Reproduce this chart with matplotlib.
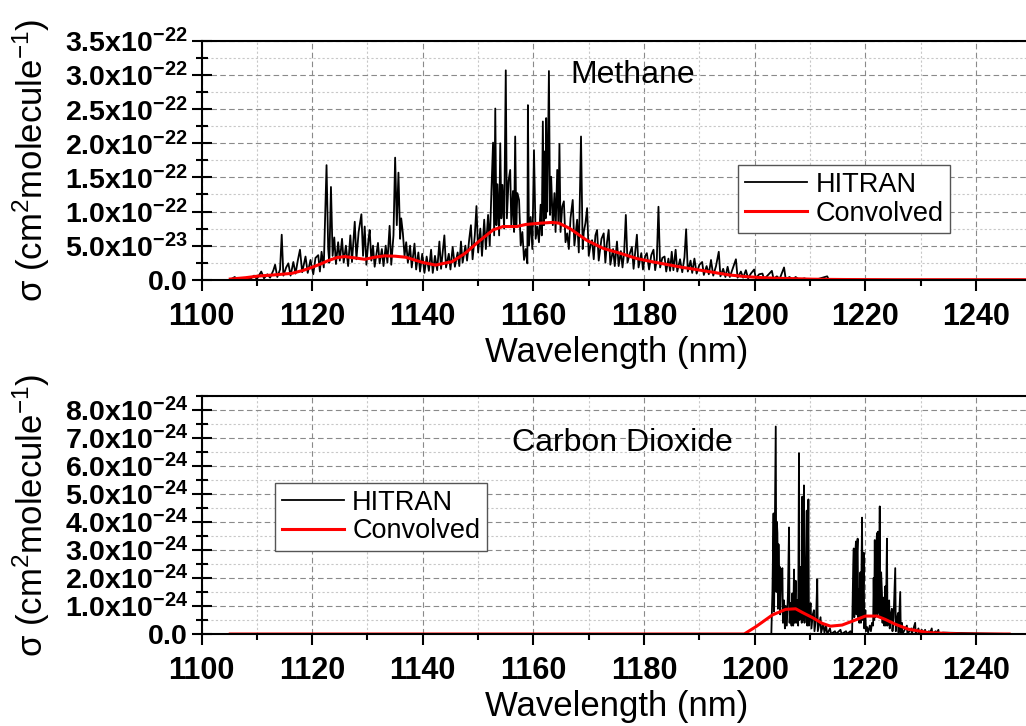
import numpy as np
import matplotlib
matplotlib.use("Agg")
import matplotlib.pyplot as plt
from matplotlib.ticker import MultipleLocator, FuncFormatter

plt.rcParams["font.family"] = ["Liberation Sans", "DejaVu Sans"]
plt.rcParams["mathtext.fontset"] = "custom"
plt.rcParams["mathtext.rm"] = "Liberation Sans"
plt.rcParams["mathtext.it"] = "Liberation Sans:italic"
plt.rcParams["mathtext.bf"] = "Liberation Sans:bold"

# Methane, HITRAN line-by-line cross section (nm, 1e-23 cm^2/molecule)
ch4_wl = [
    1105.2, 1105.6, 1106.0, 1106.4, 1107.0, 1107.5, 1108.2, 1108.8, 1109.5, 1110.0,
    1110.8, 1111.3, 1111.9, 1112.4, 1113.0, 1113.3, 1113.7, 1114.2, 1114.5, 1114.8,
    1115.3, 1115.7, 1116.1, 1116.6, 1117.0, 1117.4, 1117.8, 1118.2, 1118.8, 1119.2,
    1119.7, 1120.2, 1120.6, 1121.1, 1121.4, 1121.7, 1122.1, 1122.6, 1122.9, 1123.1,
    1123.4, 1123.7, 1124.0, 1124.3, 1124.7, 1125.0, 1125.4, 1125.7, 1126.1, 1126.5,
    1126.9, 1127.2, 1127.7, 1128.0, 1128.4, 1128.9, 1129.2, 1129.5, 1129.8, 1130.2,
    1130.4, 1130.7, 1131.0, 1131.3, 1131.9, 1132.2, 1132.6, 1132.9, 1133.3, 1133.6,
    1134.0, 1134.3, 1134.7, 1135.0, 1135.3, 1135.6, 1135.9, 1136.1, 1136.4, 1136.7,
    1137.0, 1137.3, 1137.7, 1138.0, 1138.5, 1138.8, 1139.2, 1139.5, 1139.9, 1140.3,
    1140.7, 1141.1, 1141.5, 1141.8, 1142.2, 1142.6, 1143.0, 1143.3, 1143.9, 1144.2,
    1144.7, 1145.0, 1145.4, 1145.8, 1146.3, 1146.6, 1146.9, 1147.2, 1147.7, 1148.0,
    1148.4, 1148.7, 1149.0, 1149.4, 1149.7, 1150.0, 1150.4, 1150.7, 1151.1, 1151.4,
    1151.8, 1152.1, 1152.4, 1152.7, 1152.9, 1153.1, 1153.3, 1153.5, 1153.8, 1154.0,
    1154.2, 1154.4, 1154.7, 1155.0, 1155.2, 1155.5, 1155.8, 1156.0, 1156.3, 1156.5,
    1156.7, 1156.9, 1157.1, 1157.4, 1157.7, 1158.0, 1158.3, 1158.6, 1158.9, 1159.0,
    1159.2, 1159.5, 1159.8, 1160.1, 1160.4, 1160.7, 1161.0, 1161.3, 1161.5, 1161.7,
    1161.9, 1162.0, 1162.2, 1162.3, 1162.5, 1162.8, 1163.0, 1163.2, 1163.5, 1163.8,
    1164.0, 1164.3, 1164.5, 1164.7, 1164.9, 1165.2, 1165.5, 1165.8, 1166.1, 1166.4,
    1166.7, 1167.1, 1167.4, 1167.9, 1168.2, 1168.6, 1168.9, 1169.1, 1169.4, 1169.7,
    1170.0, 1170.3, 1170.6, 1170.9, 1171.2, 1171.5, 1171.8, 1172.3, 1172.7, 1173.0,
    1173.3, 1173.6, 1173.9, 1174.4, 1174.7, 1175.1, 1175.4, 1175.8, 1176.1, 1176.4,
    1176.7, 1177.0, 1177.4, 1177.8, 1178.1, 1178.7, 1179.0, 1179.5, 1179.8, 1180.2,
    1180.5, 1180.9, 1181.3, 1181.7, 1182.0, 1182.3, 1182.6, 1182.9, 1183.3, 1183.7,
    1184.0, 1184.4, 1184.7, 1185.0, 1185.3, 1185.7, 1186.0, 1186.5, 1186.9, 1187.3,
    1187.6, 1187.9, 1188.4, 1188.7, 1189.1, 1189.5, 1190.0, 1190.5, 1190.8, 1191.3,
    1191.7, 1192.1, 1192.5, 1193.0, 1193.5, 1193.8, 1194.3, 1194.7, 1195.1, 1195.5,
    1196.0, 1196.6, 1196.9, 1197.5, 1197.9, 1198.4, 1198.8, 1199.3, 1199.9, 1200.2,
    1200.8, 1201.4, 1201.7, 1202.3, 1203.1, 1203.4, 1204.0, 1204.5, 1205.3, 1205.6,
    1206.3, 1206.8, 1207.4, 1208.0, 1209.0, 1209.5, 1210.5, 1211.0, 1213.1, 1213.4,
    1214.5, 1215.0, 1250.0,
]
ch4_hitran = [
    0.0, 0.2, 0.4, 0.1, 0.2, 0.0, 0.3, 0.1, 0.6, 0.1,
    1.2, 0.2, 0.8, 0.3, 1.4, 2.2, 0.4, 1.5, 6.6, 0.6,
    1.8, 2.4, 0.6, 2.6, 0.9, 2.8, 4.4, 1.1, 3.4, 1.0,
    2.9, 0.8, 3.2, 3.6, 1.2, 4.1, 1.8, 16.8, 4.5, 2.5,
    13.6, 3.5, 6.2, 2.3, 5.5, 2.8, 6.0, 2.5, 5.0, 2.0,
    6.5, 2.6, 8.5, 3.0, 7.0, 9.6, 3.5, 7.8, 2.2, 6.0,
    7.3, 2.8, 5.0, 1.9, 5.4, 2.4, 4.5, 2.0, 5.0, 2.5,
    7.9, 2.2, 6.5, 17.9, 8.0, 15.7, 6.0, 9.0, 6.8, 3.5,
    5.5, 2.5, 5.0, 1.8, 5.3, 1.5, 4.0, 1.2, 3.8, 1.0,
    3.4, 1.3, 4.4, 1.0, 3.5, 1.4, 5.6, 1.6, 6.5, 1.8,
    3.8, 1.5, 4.8, 1.9, 4.0, 2.0, 5.6, 2.5, 5.0, 2.8,
    6.0, 8.0, 3.0, 6.5, 10.8, 4.0, 7.5, 3.5, 8.8, 4.5,
    9.5, 5.0, 12.9, 20.1, 6.5, 25.1, 8.0, 14.0, 6.5, 20.0,
    9.0, 13.9, 7.5, 30.7, 9.0, 14.5, 16.1, 8.0, 13.0, 7.0,
    21.0, 8.0, 12.7, 11.7, 5.0, 7.0, 2.9, 4.5, 2.4, 25.6,
    5.0, 9.2, 4.5, 19.0, 6.0, 7.8, 5.5, 11.0, 6.5, 23.2,
    8.0, 18.8, 9.0, 23.7, 10.0, 30.6, 9.5, 15.1, 8.0, 12.7,
    7.0, 16.1, 8.5, 19.9, 7.0, 10.7, 11.5, 5.5, 6.8, 4.5,
    9.0, 11.7, 5.0, 8.8, 4.0, 21.0, 4.5, 7.0, 8.3, 10.5,
    3.5, 5.0, 5.8, 3.0, 6.5, 7.3, 2.8, 6.0, 6.8, 2.5,
    5.5, 7.3, 2.2, 4.5, 2.0, 5.6, 2.0, 4.2, 1.8, 4.0,
    9.5, 2.5, 3.8, 4.8, 1.6, 6.6, 1.8, 3.9, 1.5, 3.5,
    3.9, 1.5, 3.6, 4.4, 1.4, 3.0, 10.7, 1.8, 3.2, 3.4,
    1.2, 3.1, 1.3, 4.1, 1.4, 4.4, 1.2, 3.0, 1.1, 3.3,
    7.4, 1.2, 2.8, 1.0, 3.1, 0.9, 2.2, 2.6, 0.7, 2.0,
    0.8, 2.9, 0.6, 2.0, 4.1, 0.5, 1.6, 0.4, 1.9, 0.4,
    1.6, 3.0, 0.3, 1.2, 0.3, 1.4, 0.2, 0.9, 1.5, 0.2,
    0.8, 0.9, 0.1, 0.6, 1.3, 0.1, 0.5, 0.1, 1.8, 0.1,
    0.4, 0.0, 0.4, 0.0, 0.2, 0.0, 0.1, 0.0, 0.5, 0.0,
    0.1, 0.0, 0.0,
]
# Methane, instrument-convolved cross section
ch4_conv_wl = [
    1105.2, 1108.0, 1110.3, 1113.0, 1116.3, 1118.5, 1119.9, 1121.5, 1122.9, 1124.5,
    1125.9, 1127.7, 1129.5, 1131.3, 1133.1, 1135.0, 1136.9, 1139.9, 1142.3, 1145.3,
    1147.7, 1150.1, 1152.7, 1154.5, 1157.0, 1158.6, 1161.3, 1163.4, 1164.6, 1166.6,
    1169.6, 1172.6, 1175.6, 1178.7, 1181.7, 1184.7, 1187.0, 1189.4, 1192.4, 1195.4,
    1198.4, 1201.4, 1204.4, 1207.4, 1210.4, 1213.4, 1216.4, 1219.4, 1225.0, 1250.0,
]
ch4_conv = [
    0.1, 0.3, 0.54, 0.7, 0.93, 1.4, 1.8, 2.3, 2.8, 3.25,
    3.4, 3.2, 3.0, 3.3, 3.5, 3.45, 3.3, 2.55, 2.15, 2.65,
    3.9, 5.6, 7.3, 7.8, 7.8, 8.1, 8.3, 8.4, 8.3, 7.5,
    5.8, 4.6, 3.9, 3.1, 2.6, 2.15, 1.8, 1.5, 1.1, 0.7,
    0.45, 0.3, 0.2, 0.15, 0.08, 0.05, 0.03, 0.02, 0.0, 0.0,
]

# Carbon dioxide, HITRAN (nm, 1e-24 cm^2/molecule)
co2_wl = [
    1105.2, 1203.0, 1203.2, 1203.4, 1203.5, 1203.65, 1203.8, 1203.9, 1204.0, 1204.1,
    1204.2, 1204.3, 1204.45, 1204.5, 1204.6, 1204.8, 1205.0, 1205.1, 1205.3, 1205.45,
    1205.6, 1205.8, 1206.0, 1206.2, 1206.3, 1206.5, 1206.65, 1206.8, 1206.95, 1207.1,
    1207.2, 1207.4, 1207.5, 1207.7, 1207.85, 1208.0, 1208.1, 1208.25, 1208.4, 1208.5,
    1208.6, 1208.7, 1208.9, 1209.0, 1209.2, 1209.4, 1209.5, 1209.7, 1209.8, 1210.0,
    1210.1, 1210.25, 1210.5, 1210.7, 1210.8, 1211.1, 1211.3, 1211.4, 1211.7, 1211.9,
    1212.0, 1212.4, 1212.6, 1212.9, 1213.1, 1213.6, 1213.8, 1214.5, 1214.7, 1215.5,
    1215.7, 1216.5, 1216.7, 1217.3, 1217.6, 1217.8, 1217.9, 1218.0, 1218.15, 1218.3,
    1218.4, 1218.5, 1218.6, 1218.7, 1218.8, 1218.9, 1219.1, 1219.2, 1219.4, 1219.5,
    1219.7, 1219.8, 1220.0, 1220.1, 1220.3, 1220.5, 1220.8, 1221.0, 1221.2, 1221.4,
    1221.5, 1221.6, 1221.7, 1221.8, 1221.95, 1222.1, 1222.2, 1222.3, 1222.4, 1222.6,
    1222.7, 1222.85, 1223.0, 1223.1, 1223.3, 1223.4, 1223.6, 1223.7, 1223.9, 1224.0,
    1224.15, 1224.3, 1224.4, 1224.6, 1224.8, 1224.9, 1225.1, 1225.4, 1225.5, 1225.7,
    1225.9, 1226.0, 1226.3, 1226.4, 1226.6, 1226.7, 1227.5, 1227.6, 1228.3, 1228.4,
    1229.0, 1229.1, 1229.6, 1229.7, 1230.2, 1230.3, 1230.8, 1230.9, 1231.5, 1231.6,
    1232.0, 1232.1, 1232.7, 1232.8, 1233.2, 1233.3, 1234.0, 1246.0,
]
co2_hitran = [
    0.0, 0.0, 1.5, 4.3, 0.8, 3.9, 7.4, 1.5, 4.0, 3.6,
    0.9, 3.2, 1.0, 2.4, 0.7, 2.2, 2.35, 0.4, 1.2, 0.2,
    1.0, 0.3, 1.4, 3.8, 0.4, 1.1, 0.3, 1.45, 0.3, 2.3,
    0.4, 1.9, 0.4, 1.2, 0.3, 6.45, 0.5, 1.6, 2.4, 0.4,
    4.9, 0.5, 5.3, 0.4, 1.6, 4.4, 0.3, 4.8, 0.3, 0.9,
    1.1, 0.2, 0.7, 0.85, 0.1, 0.6, 1.95, 0.1, 0.4, 0.6,
    0.05, 0.35, 0.05, 0.3, 0.0, 0.2, 0.0, 0.1, 0.0, 0.15,
    0.0, 0.1, 0.0, 0.1, 0.0, 2.4, 3.05, 0.6, 2.8, 3.3,
    0.7, 2.9, 3.4, 0.6, 1.6, 0.4, 2.2, 0.4, 4.15, 0.5,
    2.9, 0.2, 0.85, 0.1, 0.25, 0.05, 0.3, 0.1, 0.4, 0.3,
    2.0, 0.5, 3.35, 0.6, 3.0, 3.6, 0.7, 3.65, 0.8, 4.55,
    0.6, 2.2, 1.45, 0.4, 1.3, 0.3, 1.7, 0.3, 3.4, 0.3,
    1.0, 1.2, 0.2, 0.7, 0.9, 0.1, 0.6, 2.35, 0.1, 0.5,
    0.75, 0.05, 1.5, 0.05, 0.4, 0.0, 0.3, 0.0, 0.2, 0.0,
    0.4, 0.0, 0.2, 0.0, 0.15, 0.0, 0.15, 0.0, 0.1, 0.0,
    0.2, 0.0, 0.1, 0.0, 0.15, 0.0, 0.05, 0.0,
]
# Carbon dioxide, instrument-convolved cross section
co2_conv_wl = [
    1105.2, 1198.1, 1200.2, 1203.2, 1205.6, 1207.4, 1208.6, 1210.4, 1212.2, 1213.7,
    1215.8, 1218.2, 1220.0, 1222.1, 1223.6, 1225.4, 1227.8, 1231.4, 1237.4, 1246.0,
]
co2_conv = [
    0.0, 0.0, 0.26, 0.68, 0.88, 0.9, 0.77, 0.59, 0.38, 0.28,
    0.32, 0.5, 0.64, 0.64, 0.52, 0.35, 0.17, 0.05, 0.0, 0.0,
]


def sci_label(v, pos):
    if abs(v) < 1e-30:
        return r"$\mathbf{0.0}$"
    if v < 0:
        return ""
    exp = int(np.floor(np.log10(v) + 1e-9))
    mant = v / 10.0 ** exp
    return r"$\mathbf{%.1fx10^{%d}}$" % (mant, exp)


def style_axes(ax, ymax, ymajor):
    ax.set_xlim(1100, 1250)
    ax.set_ylim(0, ymax)
    ax.xaxis.set_major_locator(MultipleLocator(20))
    ax.xaxis.set_minor_locator(MultipleLocator(10))
    ax.yaxis.set_major_locator(MultipleLocator(ymajor))
    ax.yaxis.set_minor_locator(MultipleLocator(ymajor / 2))
    ax.yaxis.set_major_formatter(FuncFormatter(sci_label))
    ax.set_axisbelow(True)
    ax.grid(which="major", color="#8a8a8a", ls=(0, (5, 3)), lw=0.8)
    ax.grid(which="minor", color="#c8c8c8", ls=(0, (2, 2)), lw=0.8)
    for s in ax.spines.values():
        s.set_linewidth(1.5)
    ax.tick_params(axis="x", which="major", direction="out", length=8, width=1.5,
                   labelsize=22, pad=8)
    ax.tick_params(axis="x", which="minor", direction="out", length=4, width=1.5)
    ax.tick_params(axis="y", which="major", direction="inout", length=14, width=1.5,
                   labelsize=20.5, pad=3)
    ax.tick_params(axis="y", which="minor", direction="inout", length=8, width=1.5)
    for lab in ax.get_xticklabels():
        lab.set_fontweight("bold")
    ax.set_xlabel("Wavelength (nm)", fontsize=25)
    ax.set_ylabel(r"σ (cm$^2$molecule$^{-1}$)", fontsize=25)
    ax.yaxis.set_label_coords(-0.18, 0.5)
    ax.xaxis.set_label_coords(0.5, -0.235)


fig = plt.figure(figsize=(10.26, 7.26), dpi=100)
ax1 = fig.add_axes([0.1964, 0.6147, 0.8088, 0.3288])
ax2 = fig.add_axes([0.1964, 0.1267, 0.8088, 0.3283])

ax1.plot(ch4_wl, np.array(ch4_hitran) * 1e-23, color="black", lw=1.3, label="HITRAN")
ax1.plot(ch4_conv_wl, np.array(ch4_conv) * 1e-23, color="red", lw=2.2, label="Convolved")
style_axes(ax1, 3.5e-22, 0.5e-22)
ax1.text(1178, 3.0e-22, "Methane", fontsize=23, ha="center", va="center")
ax1.legend(loc="upper left", bbox_to_anchor=(0.6466, 0.4805), borderaxespad=0,
           fontsize=19.5, fancybox=False, edgecolor="#555555", framealpha=1,
           handlelength=2.3, handletextpad=0.3, labelspacing=0.1, borderpad=0.25)

ax2.plot(co2_wl, np.array(co2_hitran) * 1e-24, color="black", lw=1.3, label="HITRAN")
ax2.plot(co2_conv_wl, np.array(co2_conv) * 1e-24, color="red", lw=2.2, label="Convolved")
style_axes(ax2, 8.5e-24, 1e-24)
ax2.text(1176, 6.8e-24, "Carbon Dioxide", fontsize=23, ha="center", va="center")
ax2.legend(loc="upper left", bbox_to_anchor=(0.0886, 0.6337), borderaxespad=0,
           fontsize=19.5, fancybox=False, edgecolor="#555555", framealpha=1,
           handlelength=2.3, handletextpad=0.3, labelspacing=0.1, borderpad=0.25)

fig.savefig("out.png", dpi=100)
